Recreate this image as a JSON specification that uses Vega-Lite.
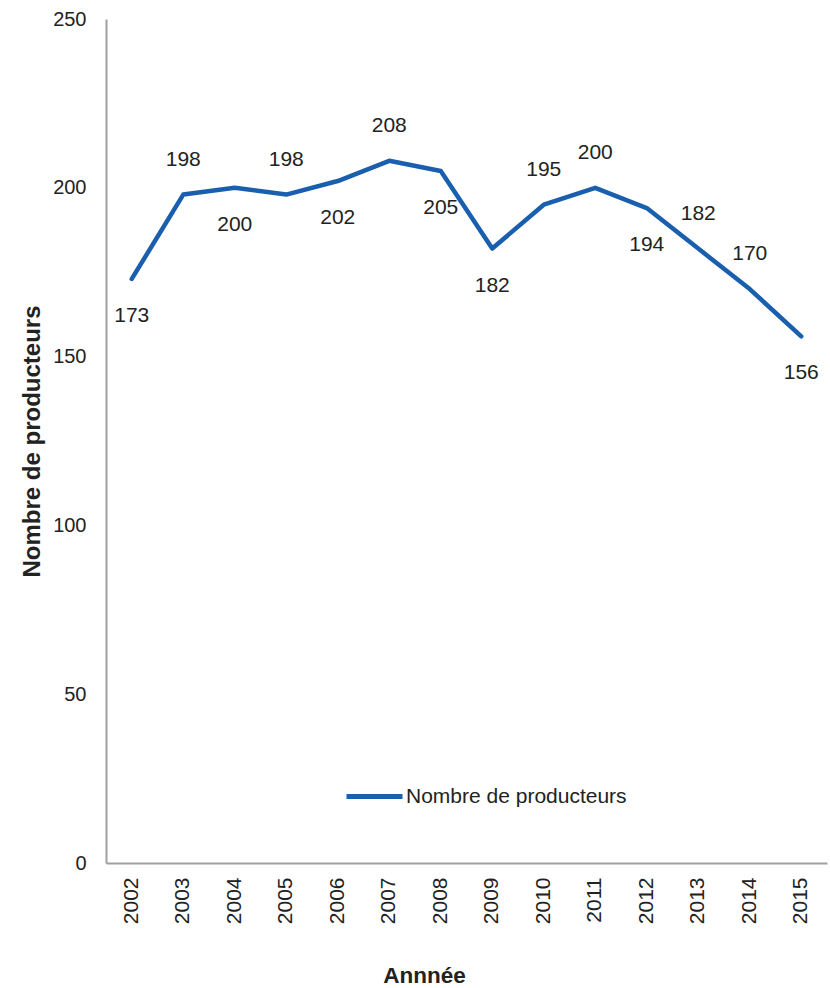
{
  "$schema": "https://vega.github.io/schema/vega-lite/v6.json",
  "width": 721,
  "height": 844,
  "autosize": {"type": "none"},
  "padding": {"left": 106, "top": 19, "right": 3, "bottom": 125},
  "background": "white",
  "config": {
    "font": "Liberation Sans",
    "view": {"stroke": null},
    "axis": {"grid": false, "ticks": false, "domainColor": "#a0a0a0", "domainWidth": 2, "labelColor": "#222222", "titleColor": "#222222", "labelFontSize": 20, "titleFontSize": 22.5, "titleFontWeight": "bold"}
  },
  "data": {"values": [
    {"year": "2002", "value": 173, "series": "Nombre de producteurs"},
    {"year": "2003", "value": 198, "series": "Nombre de producteurs"},
    {"year": "2004", "value": 200, "series": "Nombre de producteurs"},
    {"year": "2005", "value": 198, "series": "Nombre de producteurs"},
    {"year": "2006", "value": 202, "series": "Nombre de producteurs"},
    {"year": "2007", "value": 208, "series": "Nombre de producteurs"},
    {"year": "2008", "value": 205, "series": "Nombre de producteurs"},
    {"year": "2009", "value": 182, "series": "Nombre de producteurs"},
    {"year": "2010", "value": 195, "series": "Nombre de producteurs"},
    {"year": "2011", "value": 200, "series": "Nombre de producteurs"},
    {"year": "2012", "value": 194, "series": "Nombre de producteurs"},
    {"year": "2013", "value": 182, "series": "Nombre de producteurs"},
    {"year": "2014", "value": 170, "series": "Nombre de producteurs"},
    {"year": "2015", "value": 156, "series": "Nombre de producteurs"}
  ]},
  "encoding": {
    "x": {"field": "year", "type": "ordinal", "scale": {"type": "band", "paddingInner": 0, "paddingOuter": 0},
      "axis": {"title": "Annnée", "labelAngle": -90, "labelFontSize": 21, "labelPadding": 14, "labelAlign": "right", "labelBaseline": "middle", "titleX": 318, "titleY": 112, "titleBaseline": "middle"}},
    "y": {"field": "value", "type": "quantitative", "scale": {"domain": [0, 250], "nice": false},
      "axis": {"title": "Nombre de producteurs", "titleFontSize": 24, "values": [0, 50, 100, 150, 200, 250], "labelPadding": 20, "titleX": -74, "titleBaseline": "middle"}}
  },
  "layer": [
    {
      "mark": {"type": "line", "strokeWidth": 4.5, "strokeJoin": "round", "strokeCap": "round"},
      "encoding": {
        "color": {"field": "series", "type": "nominal", "scale": {"range": ["#1a5fae"]},
          "legend": {"title": null, "orient": "none", "legendX": 238, "legendY": 747, "padding": 0, "symbolType": "stroke", "symbolSize": 3136, "symbolStrokeWidth": 5, "labelFontSize": 21, "labelColor": "#222222", "labelOffset": 1, "labelLimit": 0, "labelFont": "Liberation Sans"}}
      }
    },
    {
      "transform": [{"filter": {"field": "year", "oneOf": ["2003", "2005", "2007", "2010", "2011", "2013", "2014"]}}],
      "mark": {"type": "text", "fontSize": 21, "color": "#222222", "dy": -35, "baseline": "middle"},
      "encoding": {"text": {"field": "value", "type": "quantitative"}}
    },
    {
      "transform": [{"filter": {"field": "year", "oneOf": ["2002", "2004", "2006", "2008", "2009", "2012", "2015"]}}],
      "mark": {"type": "text", "fontSize": 21, "color": "#222222", "dy": 37, "baseline": "middle"},
      "encoding": {"text": {"field": "value", "type": "quantitative"}}
    }
  ]
}
